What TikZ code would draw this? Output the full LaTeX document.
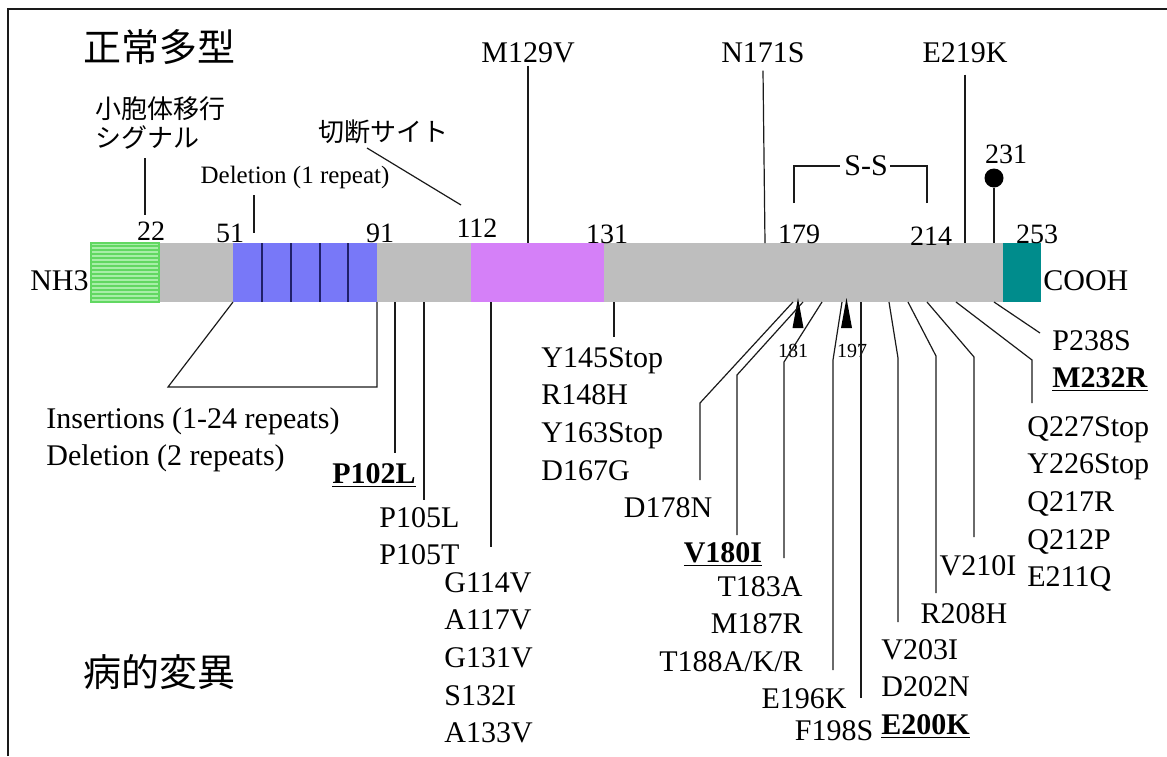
\documentclass[tikz,border=0pt]{standalone}
\usepackage{fontspec}
\setmainfont{Liberation Serif}
\newfontfamily\jpfont{Noto Sans CJK JP}
\usepackage{xcolor}
\usepackage{tikz}
\usetikzlibrary{positioning, patterns.meta}
\definecolor{ink}{HTML}{1A1A1A}
\definecolor{chain}{HTML}{BEBEBE}
\definecolor{sigdark}{HTML}{62D862}
\definecolor{siglight}{HTML}{A8EEA8}
\definecolor{octa}{HTML}{7878F8}
\definecolor{octaline}{HTML}{20206A}
\definecolor{core}{HTML}{D580F8}
\definecolor{gpi}{HTML}{008C8C}
\newcommand{\ulb}[1]{\underline{\textbf{#1}}}
\tikzset{
  mut/.style     = {font=\fontsize{15}{18.8}\selectfont, inner sep=0pt, align=left},
  resnum/.style  = {font=\fontsize{14}{16}\selectfont, inner sep=0pt},
  note/.style    = {font=\fontsize{12.5}{15}\selectfont, inner sep=0pt},
  site/.style    = {font=\fontsize{10}{12}\selectfont, inner sep=0pt},
  jpnote/.style  = {font=\jpfont\fontsize{13}{14.5}\selectfont, inner sep=0pt, align=left},
  jptitle/.style = {font=\jpfont\fontsize{19}{22}\selectfont, inner sep=0pt},
  lead/.style    = {draw=ink, line width=0.6pt},
  cut/.style     = {fill=black},
}

\begin{document}
\begin{tikzpicture}[x=0.5pt, y=-0.5pt]
  \useasboundingbox (0,0) rectangle (1167,756);

  % ----- frame -----
  \draw[ink, line width=1pt] (8,756) -- (8,9) -- (1167,9);

  % ----- protein chain -----
  \fill[chain] (159,243) rectangle (1003,302);
  \fill[sigdark] (91,243) rectangle (159,302);
  \fill[pattern={Lines[angle=0, distance=2pt, line width=0.9pt]}, pattern color=siglight]
       (91,243) rectangle (159,302);
  \draw[sigdark, line width=0.6pt] (91,243) rectangle (159,302);
  \fill[octa] (233,243) rectangle (377,302);
  \draw[octaline, line width=0.6pt] (262,243) -- (262,302) (291,243) -- (291,302)
       (320,243) -- (320,302) (348,243) -- (348,302);
  \fill[core] (471,243) rectangle (604,302);
  \fill[gpi] (1003,243) rectangle (1041,302);

  \node[mut, anchor=base east] (nh3) at (89,290) {NH3};
  \node[mut, anchor=base west] (cooh) at (1043,290) {COOH};

  % ----- residue numbers -----
  \node[resnum, anchor=base] (n22)  at (151,240) {22};
  \node[resnum, anchor=base] (n51)  at (230,242) {51};
  \node[resnum, anchor=base] (n91)  at (380,242) {91};
  \node[resnum, anchor=base] (n112) at (477,237) {112};
  \node[resnum, anchor=base] (n131) at (607,243) {131};
  \node[resnum, anchor=base] (n179) at (799,243) {179};
  \node[resnum, anchor=base] (n214) at (931,245) {214};
  \node[resnum, anchor=base] (n253) at (1037,243) {253};
  \node[resnum, anchor=base] (n231) at (1006,163) {231};

  % ----- NORMAL POLYMORPHISMS (top) -----
  \node[jptitle] (normal) at (159,47) {正常多型};
  \node[jpnote, anchor=west] (sigtxt) at (95,123) {小胞体移行\\シグナル};
  \node[jpnote] (cuttxt) at (383,132) {切断サイト};
  \node[note, anchor=base] (del1) at (295,183) {Deletion (1 repeat)};
  \node[mut, anchor=base] (m129v) at (528,62) {M129V};
  \node[mut, anchor=base] (n171s) at (763,62) {N171S};
  \node[mut, anchor=base] (e219k) at (965,62) {E219K};
  \node[mut] (ss) at (866,166) {S-S};
  \node[circle, fill=black, inner sep=0pt, minimum size=9.5pt] (glyc) at (994,178) {};

  \coordinate (s22u) at (145,158);  \coordinate (s22d) at (145,215);
  \coordinate (d51u) at (254,195);  \coordinate (d51d) at (254,233);
  \coordinate (c112u) at (367,148); \coordinate (c112d) at (461,205);
  \coordinate (t129) at (528,243);
  \coordinate (t171) at (765,243);
  \coordinate (t219) at (965,243);
  \coordinate (t231) at (994,243);
  \coordinate (ss179) at (794,203); \coordinate (ss214) at (927,203);

  \draw[lead] (s22u) -- (s22d);
  \draw[lead] (d51u) -- (d51d);
  \draw[lead] (c112u) -- (c112d);
  \draw[lead] ([yshift=-1.5pt]m129v.south) -- (t129);
  \draw[lead] ([yshift=-4pt]n171s.south) -- (t171);
  \draw[lead] ([yshift=-6pt]e219k.south) -- (t219);
  \draw[lead] (glyc) -- (t231);
  \draw[lead] (ss179) |- ([xshift=-2pt]ss.west);
  \draw[lead] (ss214) |- ([xshift=1pt]ss.east);

  % ----- PATHOGENIC MUTATIONS (bottom) -----
  \node[jptitle] (disease) at (159,672) {病的変異};
  \node[mut, anchor=north west] (ins) at (46,407) {Insertions (1-24 repeats)\\Deletion (2 repeats)};
  \node[mut, anchor=base] (p102l) at (374,483) {\ulb{P102L}};
  \node[mut, anchor=north west] (p105) at (379,507) {P105L\\P105T};
  \node[mut, anchor=north west] (g114v) at (444,572) {G114V\\A117V\\G131V\\S132I\\A133V};
  \node[mut, anchor=north west] (y145) at (541,347) {Y145Stop\\R148H\\Y163Stop\\D167G};
  \node[mut, anchor=base] (d178n) at (668,517) {D178N};
  \node[mut, anchor=base] (v180i) at (723,562) {\ulb{V180I}};
  \node[mut, anchor=north east, align=right] (t183a) at (803,576) {T183A\\M187R\\T188A/K/R};
  \node[mut, anchor=base] (e196k) at (804,708) {E196K};
  \node[mut, anchor=base] (f198s) at (834,740) {F198S};
  \node[mut, anchor=north west] (v203i) at (881,639) {V203I\\D202N\\\ulb{E200K}};
  \node[mut, anchor=base] (r208h) at (964,623) {R208H};
  \node[mut, anchor=base] (v210i) at (978,575) {V210I};
  \node[mut, anchor=north west] (q227) at (1027,416) {Q227Stop\\Y226Stop\\Q217R\\Q212P\\E211Q};
  \node[mut, anchor=base west] (p238s) at (1052,350) {P238S};
  \node[mut, anchor=base west] (m232r) at (1052,387) {\ulb{M232R}};

  % cleavage sites 181 / 197
  \node[site, anchor=base] (s181) at (793,357) {181};
  \node[site, anchor=base] (s197) at (852,357) {197};
  \fill[cut] (798,298) -- (803.5,328) -- (792.5,328) -- cycle;
  \fill[cut] (846.5,298) -- (852,328) -- (841,328) -- cycle;

  % repeat region bracket
  \coordinate (ins1) at (233,302); \coordinate (ins2) at (168,387);
  \coordinate (ins3) at (377,387); \coordinate (ins4) at (377,302);
  \draw[lead] (ins1) -- (ins2) -- (ins3) -- (ins4);

  % attachment points on the chain
  \coordinate (a102) at (395,302); \coordinate (a105) at (424,302);
  \coordinate (a114) at (491,302); \coordinate (a145) at (614,302);
  \coordinate (a178) at (793,302); \coordinate (a180) at (803,302);
  \coordinate (a183) at (822,302); \coordinate (a196) at (842,302);
  \coordinate (a198) at (861,302); \coordinate (a203) at (889,302);
  \coordinate (a208) at (908,302); \coordinate (a210) at (927,302);
  \coordinate (a227) at (956,302); \coordinate (a238) at (994,302);

  % bends and loose ends
  \coordinate (e102) at (395,453); \coordinate (e105) at (424,500);
  \coordinate (e114) at (491,547); \coordinate (e145) at (614,337);
  \coordinate (k178) at (700,403); \coordinate (e178) at (700,480);
  \coordinate (k180) at (737,375); \coordinate (e180) at (737,535);
  \coordinate (k183) at (784,362); \coordinate (e183) at (784,558);
  \coordinate (k196) at (833,360); \coordinate (e196) at (833,670);
  \coordinate (e198) at (861,698);
  \coordinate (k203) at (898,358); \coordinate (e203) at (898,622);
  \coordinate (k208) at (936,356); \coordinate (e208) at (936,593);
  \coordinate (k210) at (974,357); \coordinate (e210) at (974,537);
  \coordinate (k227) at (1032,360); \coordinate (e227) at (1032,403);
  \coordinate (e238) at (1040,333);

  \draw[lead] (a102) -- (e102);
  \draw[lead] (a105) -- (e105);
  \draw[lead] (a114) -- (e114);
  \draw[lead] (a145) -- (e145);
  \draw[lead] (a178) -- (k178) -- (e178);
  \draw[lead] (a180) -- (k180) -- (e180);
  \draw[lead] (a183) -- (k183) -- (e183);
  \draw[lead] (a196) -- (k196) -- (e196);
  \draw[lead] (a198) -- (e198);
  \draw[lead] (a203) -- (k203) -- (e203);
  \draw[lead] (a208) -- (k208) -- (e208);
  \draw[lead] (a210) -- (k210) -- (e210);
  \draw[lead] (a227) -- (k227) -- (e227);
  \draw[lead] (a238) -- (e238);

\end{tikzpicture}
\end{document}
